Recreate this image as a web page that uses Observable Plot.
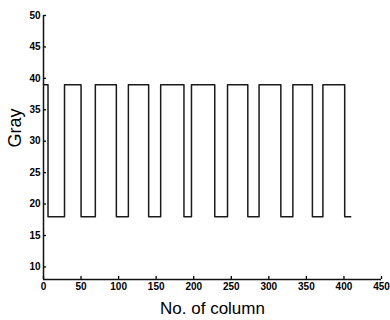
<!DOCTYPE html>
<html><head><meta charset="utf-8">
<script src="https://cdn.jsdelivr.net/npm/d3@7"></script>
<script src="https://cdn.jsdelivr.net/npm/@observablehq/plot@0.6"></script>
<style>
body{margin:0;background:#fff;}
#chart svg{font-family:"Liberation Sans Narrow","Arial Narrow","Liberation Sans",sans-serif;}
</style></head>
<body><div id="chart"></div>
<script>
const columns = [0, 6, 28, 50, 69, 97, 113, 140, 156, 187, 197, 228, 245, 272, 287, 316, 332, 358, 372, 401, 409];
const grays   = [39, 18, 39, 18, 39, 18, 39, 18, 39, 18, 39, 18, 39, 18, 39, 18, 39, 18, 39, 18, 18];
const xTicks = [0, 50, 100, 150, 200, 250, 300, 350, 400, 450];
const yTicks = [10, 15, 20, 25, 30, 35, 40, 45, 50];
const data = columns.map((c, i) => ({col: c, gray: grays[i]}));

const chart = Plot.plot({
  width: 390, height: 320,
  marginLeft: 43, marginRight: 9, marginTop: 15, marginBottom: 41,
  x: {domain: [0, 450]},
  y: {domain: [8, 50]},
  style: {fontSize: "10px", color: "#000"},
  marks: [
    Plot.axisY({ticks: yTicks, tickSize: -3, tickPadding: 6, label: null, strokeWidth: 1.3, fontWeight: "bold", fill: "#000"}),
    Plot.axisX({ticks: xTicks, tickSize: -3, tickPadding: 6, label: null, strokeWidth: 1.3, fontWeight: "bold", fill: "#000"}),
    Plot.ruleX([0], {stroke: "#111", strokeWidth: 1.5}),
    Plot.ruleY([8], {stroke: "#111", strokeWidth: 1.5}),
    Plot.line(data, {x: "col", y: "gray", curve: "step-after", stroke: "#1a1a1a", strokeWidth: 1.5}),
    Plot.text(["Gray"], {frameAnchor: "left", dx: -28, rotate: -90, fontSize: 18, fontWeight: "normal", fontFamily: "Liberation Sans, Arial, sans-serif"}),
    Plot.text(["No. of column"], {frameAnchor: "bottom", dy: 34, fontSize: 17, fontWeight: "normal", fontFamily: "Liberation Sans, Arial, sans-serif"})
  ]
});
document.getElementById("chart").appendChild(chart);
</script></body></html>
